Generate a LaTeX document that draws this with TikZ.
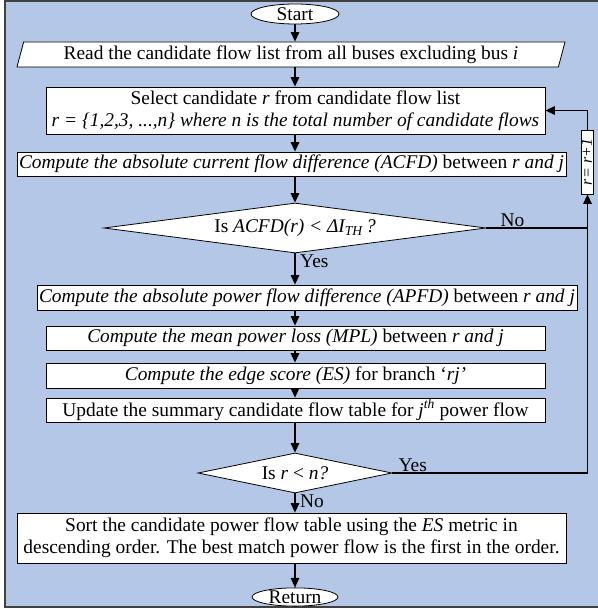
\documentclass[tikz,border=0pt]{standalone}
\usepackage{fontspec}
\setmainfont{Liberation Serif}
\usetikzlibrary{shapes.geometric,arrows.meta}
\definecolor{panel}{RGB}{180,199,231}
\begin{document}
\begin{tikzpicture}[x=1pt,y=-1pt,
  font=\fontsize{19.4}{21.5}\selectfont,
  box/.style={draw=black, line width=0.8pt, fill=white, inner sep=1pt, align=center, minimum height=24pt},
  term/.style={ellipse, draw=black, line width=0.8pt, fill=white, inner sep=0pt},
  decide/.style={diamond, draw=black, line width=0.8pt, fill=white, inner sep=0pt},
  flow/.style={line width=1.3pt, -{Triangle[width=8.5pt,length=9.5pt]}},
  link/.style={line width=1.3pt},
  tag/.style={inner sep=1pt}]
\useasboundingbox (0,0) rectangle (597,609);
% panel behind the chart
\fill[panel] (5,1) rectangle (600,607);
\draw[black!75, line width=1.5pt] (600,1) -- (5,1) -- (5,607) -- (600,607);
\coordinate (axis) at (295,0);

% steps
\node[term, minimum width=88pt, minimum height=20pt] (start) at (295,14) {Start};
\node[trapezium, trapezium left angle=74, trapezium right angle=106, trapezium stretches=true,
      draw=black, fill=white, line width=0.8pt, minimum width=552pt, minimum height=25pt, inner sep=1pt]
      (read) at (291,54.5) {Read the candidate flow list from all buses excluding bus \textit{i}};
\node[box, minimum width=499pt, minimum height=47pt] (select) at (295.5,110.5)
      {Select candidate \textit{r} from candidate flow list\\
       \textit{r = \{1,2,3, ...,n\} where n is the total number of candidate flows}};
\node[box, minimum width=549pt] (acfd) at (291.5,164)
      {\textit{Compute the absolute current flow difference (ACFD)} between \textit{r and j}};
\node[decide, minimum width=382pt, minimum height=50pt, aspect=7.6] (test1) at (295,228)
      {Is \textit{ACFD(r) < ΔI\textsubscript{TH}\,?}};
\node[box, minimum width=540pt, minimum height=25pt] (apfd) at (307,297.5)
      {\textit{Compute the absolute power flow difference (APFD)} between \textit{r and j}};
\node[box, minimum width=499pt] (mpl) at (295.5,338)
      {\textit{Compute the mean power loss (MPL)} between \textit{r and j}};
\node[box, minimum width=499pt, minimum height=25pt] (edge) at (295.5,375.5)
      {\textit{Compute the edge score (ES)} for branch ‘\textit{rj’}};
\node[box, minimum width=499pt] (upd) at (295.5,410)
      {Update the summary candidate flow table for \textit{j\textsuperscript{th}} power flow};
\node[decide, minimum width=194pt, minimum height=40pt, aspect=4.8] (test2) at (295,473)
      {Is \textit{r} < \textit{n?}};
\node[box, minimum width=549pt, minimum height=50pt] (sort) at (291.5,538)
      {Sort the candidate power flow table using the \textit{ES} metric in\\
       descending order. The best match power flow is the first in the order.};
\node[term, minimum width=86pt, minimum height=18pt] (ret) at (295,597) {Return};
\node[box, rotate=90, minimum width=64pt, minimum height=12pt, inner sep=0.5pt,
      text height=9.5pt, text depth=1pt, font=\fontsize{16}{16}\selectfont\itshape]
      (inc) at (587.5,162) {r= r+1};

% main flow
\draw[flow] (start.south) -- (read.north -| axis);
\draw[flow] (read.south -| axis) -- (select.north -| axis);
\draw[flow] (select.south -| axis) -- (acfd.north -| axis);
\draw[flow] (acfd.south -| axis) -- (test1.north);
\draw[flow] (test1.south) -- (apfd.north -| axis);
\draw[flow] (apfd.south -| axis) -- (mpl.north -| axis);
\draw[flow] (mpl.south -| axis) -- (edge.north -| axis);
\draw[flow] (edge.south -| axis) -- (upd.north -| axis);
\draw[flow] (upd.south -| axis) -- (test2.north);
\draw[flow] (test2.south) -- (sort.north -| axis);
\draw[flow] (sort.south -| axis) -- (ret.north);

% loop back to the next candidate
\draw[link] (test1.east) -- (test1.east -| inc.west);
\draw[flow] (test2.east) -| (inc.west);
\draw[flow] (inc.east) |- (select.east);

% branch labels
\node[tag, anchor=south west] (no1) at ([xshift=13pt]test1.east) {No};
\node[tag, anchor=north west] (yes1) at ([xshift=4pt]test1.south) {Yes};
\node[tag, anchor=south west] (yes2) at ([xshift=5pt]test2.east) {Yes};
\node[tag, anchor=north west] (no2) at ([xshift=4pt]test2.south) {No};
\end{tikzpicture}
\end{document}
